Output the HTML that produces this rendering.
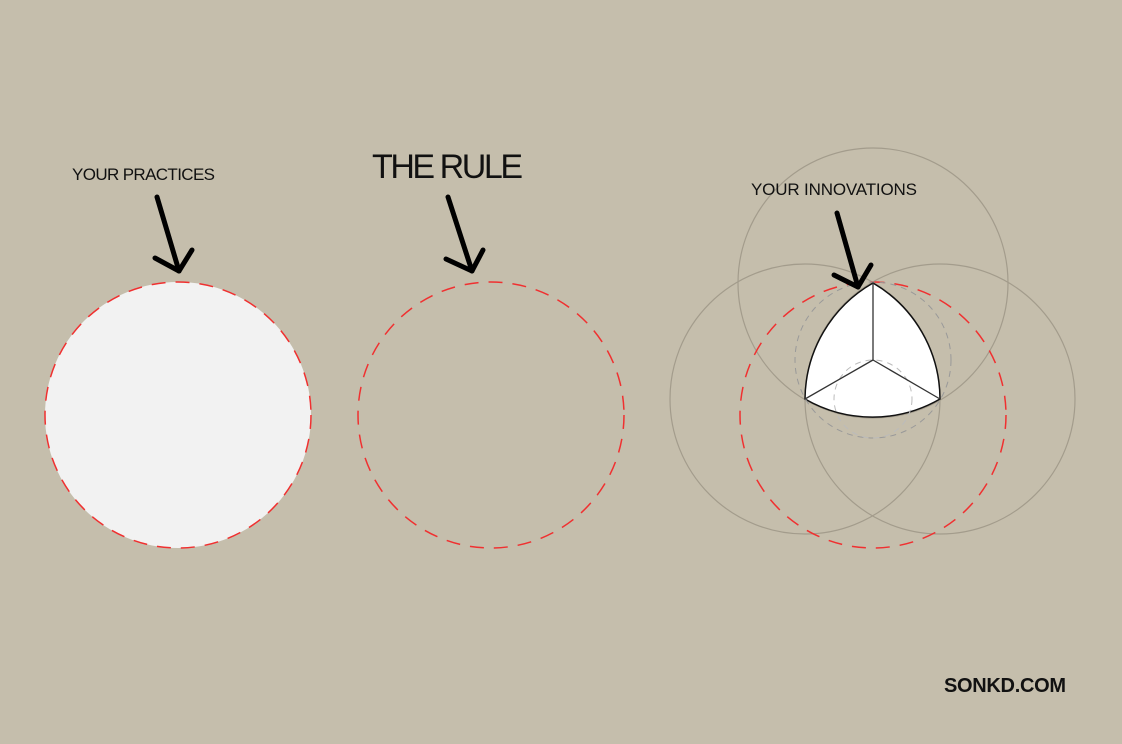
<!DOCTYPE html>
<html><head><meta charset="utf-8"><style>
body{margin:0;background:#c5beac;}
svg{display:block}
text{font-family:"Liberation Sans",sans-serif;fill:#111;}
</style></head><body>
<svg width="1122" height="744" viewBox="0 0 1122 744">
<rect width="1122" height="744" fill="#c5beac"/>
<circle cx="178" cy="415" r="133" fill="#f2f2f2" stroke="#f03030" stroke-width="1.5" stroke-dasharray="14,10"/>
<text x="72" y="180" font-size="17" textLength="143">YOUR PRACTICES</text>
<g stroke="#000" stroke-width="5" stroke-linecap="round" stroke-linejoin="round" fill="none">
<path d="M157 197 L179 271"/><path d="M155 258 L179 271 L192 250"/></g>
<circle cx="491" cy="415" r="133" fill="none" stroke="#f03030" stroke-width="1.5" stroke-dasharray="14,10"/>
<text x="372" y="178" font-size="34" textLength="151" lengthAdjust="spacing">THE RULE</text>
<g stroke="#000" stroke-width="5" stroke-linecap="round" stroke-linejoin="round" fill="none">
<path d="M448 197 L472 271"/><path d="M446 259 L472 271 L483 250"/></g>
<g fill="none" stroke="#a39c8c" stroke-width="1.2">
<circle cx="873" cy="283" r="135"/><circle cx="805" cy="399" r="135"/><circle cx="940" cy="399" r="135"/></g>
<circle cx="873" cy="415" r="133" fill="none" stroke="#f03030" stroke-width="1.5" stroke-dasharray="14,10"/>
<path d="M873 283 A135 135 0 0 1 940 399 A135 135 0 0 1 805 399 A135 135 0 0 1 873 283 Z" fill="#fff" stroke="#111" stroke-width="1.5"/>
<g fill="none" stroke="#999" stroke-width="1" stroke-dasharray="6,5">
<circle cx="873" cy="360" r="78"/><circle cx="873" cy="399" r="39" stroke="#bbb"/></g>
<g stroke="#333" stroke-width="1.3">
<line x1="873" y1="283" x2="873" y2="360"/><line x1="873" y1="360" x2="805" y2="399"/><line x1="873" y1="360" x2="940" y2="399"/></g>
<text x="751" y="195" font-size="17" textLength="166">YOUR INNOVATIONS</text>
<g stroke="#000" stroke-width="5" stroke-linecap="round" stroke-linejoin="round" fill="none">
<path d="M837 213 L858 287"/><path d="M834 275 L858 287 L871 265"/></g>
<text x="944" y="692" font-size="20" font-weight="bold" textLength="122" lengthAdjust="spacing">SONKD.COM</text>
</svg>
</body></html>
